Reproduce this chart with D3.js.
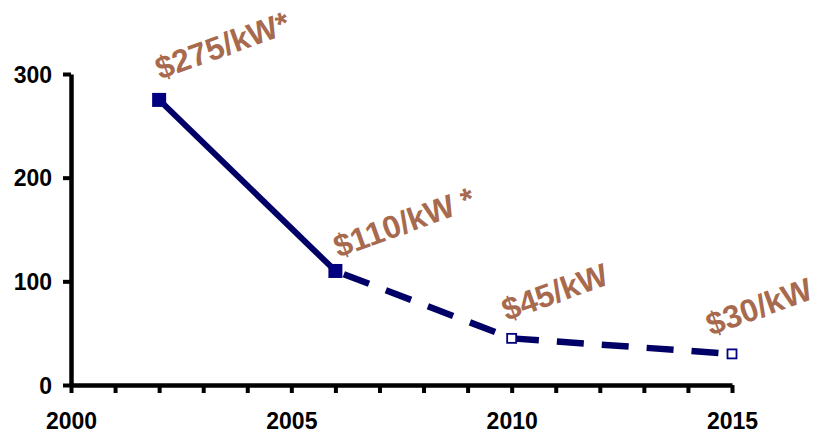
<!DOCTYPE html>
<html>
<head>
<meta charset="utf-8">
<script src="https://cdn.jsdelivr.net/npm/d3@7"></script>
<style>
  html, body { margin: 0; padding: 0; background: #fff; }
  svg { display: block; }
</style>
</head>
<body>
<svg id="chart" width="825" height="436"></svg>
<script>
// Installed cost per kW, actual and projected
const years = [2002, 2006, 2010, 2015];
const costs = [275, 110, 45, 30];
const costLabels = ["$275/kW*", "$110/kW *", "$45/kW", "$30/kW"];
const projected = [false, false, true, true];
const yTicks = [0, 100, 200, 300];
const xLabelYears = [2000, 2005, 2010, 2015];

const svg = d3.select("#chart");
const x = d3.scaleLinear().domain([2000, 2015]).range([71, 732]);
const y = d3.scaleLinear().domain([0, 300]).range([385, 74]);

const navy = "#000080";
const lineNavy = "#000066";
const brown = "#A86A4E";
const font = "'Liberation Sans', Arial, Helvetica, sans-serif";

// Y axis
const yAxis = d3.axisLeft(y).tickValues(yTicks).tickSize(8).tickPadding(11).tickSizeOuter(0);
const gy = svg.append("g").attr("transform", `translate(${x(2000)},0)`).call(yAxis);
gy.select(".domain").attr("stroke", "#000").attr("stroke-width", 4.5);
gy.selectAll(".tick line").attr("stroke", "#000").attr("stroke-width", 4);
gy.selectAll(".tick text")
  .attr("font-family", font).attr("font-weight", "bold").attr("font-size", 23)
  .attr("fill", "#000").attr("dy", "0.36em");

// X axis: a tick every year, labels every five years
const xAxis = d3.axisBottom(x).tickValues(d3.range(2000, 2016)).tickSize(8).tickSizeOuter(0)
  .tickFormat(d => xLabelYears.includes(d) ? d : "").tickPadding(20);
const gx = svg.append("g").attr("transform", `translate(0,${y(0)})`).call(xAxis);
gx.select(".domain").attr("stroke", "#000").attr("stroke-width", 4.5);
gx.selectAll(".tick line").attr("stroke", "#000").attr("stroke-width", 4);
gx.selectAll(".tick text")
  .attr("font-family", font).attr("font-weight", "bold").attr("font-size", 23)
  .attr("fill", "#000");

const pts = years.map((yr, i) => ({ yr, v: costs[i], label: costLabels[i], proj: projected[i] }));

// Solid segment for actual costs, dashed for projections
const line = d3.line().x(d => x(d.yr)).y(d => y(d.v));
const firstProj = pts.findIndex(d => d.proj);
svg.append("path")
  .attr("d", line(pts.slice(0, firstProj)))
  .attr("fill", "none").attr("stroke", lineNavy).attr("stroke-width", 6);
svg.append("path")
  .attr("d", line(pts.slice(firstProj - 1)))
  .attr("fill", "none").attr("stroke", lineNavy).attr("stroke-width", 6.5)
  .attr("stroke-dasharray", "27 18").attr("stroke-dashoffset", -9);

// Markers
pts.forEach(d => {
  const s = d.proj ? 9 : 14;
  svg.append("rect")
    .attr("x", x(d.yr) - s / 2).attr("y", y(d.v) - s / 2)
    .attr("width", s).attr("height", s)
    .attr("fill", d.proj ? "#fff" : navy)
    .attr("stroke", d.proj ? navy : "none")
    .attr("stroke-width", d.proj ? 1.8 : 0);
});

// Rotated value labels
const nudge = [[1, -20], [3, -13], [-5, -17], [-21, -18]];
pts.forEach((d, i) => {
  const lx = x(d.yr) + nudge[i][0], ly = y(d.v) + nudge[i][1];
  svg.append("text")
    .attr("transform", `translate(${lx},${ly}) rotate(-20)`)
    .attr("font-family", font).attr("font-weight", "bold").attr("font-size", 32)
    .attr("fill", brown)
    .text(d.label);
});
</script>
</body>
</html>
